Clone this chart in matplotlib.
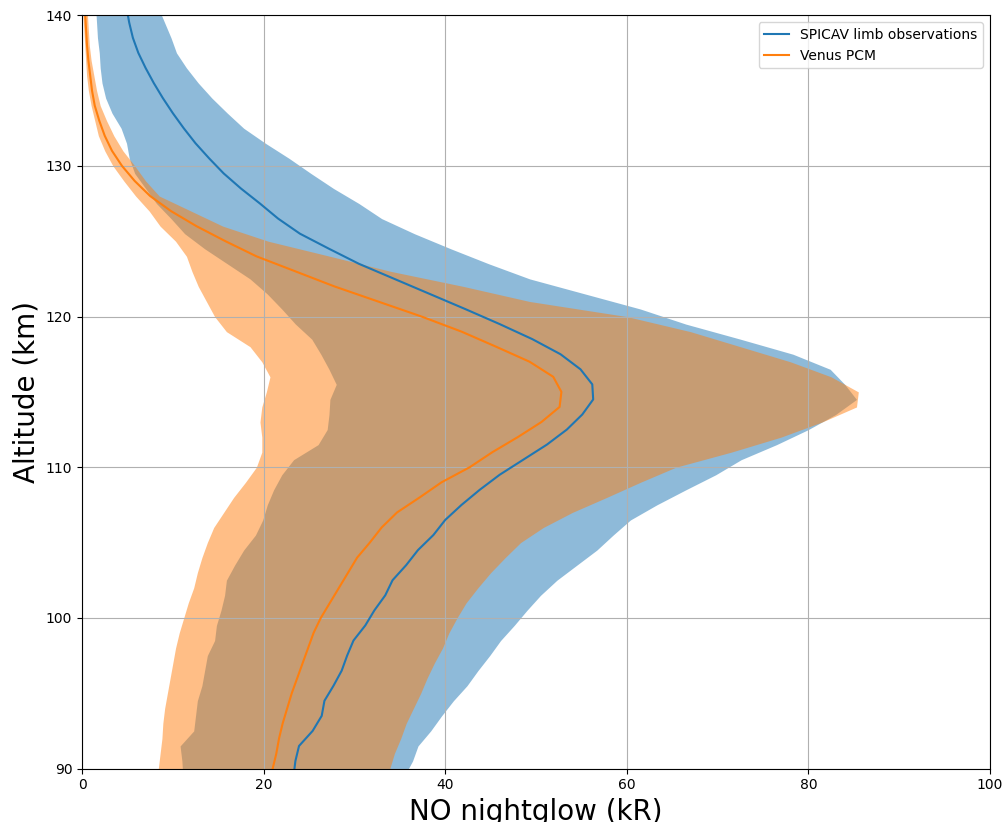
import numpy as np
import matplotlib
matplotlib.use('Agg')
import matplotlib.pyplot as plt

# SPICAV limb observations (kR), sampled at half-km altitudes
spicav_alt = np.arange(89.5, 141, 1)
spicav_mean = [23.3, 23.5, 23.9, 25.4, 26.4, 26.7, 27.7, 28.6, 29.2, 29.9,
               31.2, 32.2, 33.4, 34.2, 35.7, 37.0, 38.7, 40.0, 41.8, 43.8,
               46.0, 48.6, 51.2, 53.4, 55.1, 56.3, 56.2, 54.9, 52.7, 49.6,
               46.0, 42.2, 38.3, 34.4, 30.5, 27.2, 24.0, 21.6, 19.6, 17.5,
               15.6, 14.0, 12.5, 11.2, 10.0, 8.9, 7.9, 7.0, 6.2, 5.6,
               5.2, 4.9]
spicav_low = [11.1, 11.0, 10.8, 12.3, 12.5, 12.7, 13.2, 13.5, 13.8, 14.6,
              14.8, 15.3, 15.7, 15.9, 16.8, 17.8, 19.1, 19.9, 20.4, 21.1,
              22.0, 23.3, 26.0, 27.0, 27.2, 27.3, 28.0, 27.2, 26.3, 25.3,
              23.5, 22.0, 20.4, 18.5, 16.0, 13.5, 11.3, 9.8, 8.2, 7.0,
              5.8, 5.2, 4.9, 4.3, 3.3, 2.6, 2.2, 2.0, 1.9, 1.7,
              1.6, 1.5]
spicav_high = [35.5, 36.4, 37.0, 38.4, 39.6, 40.9, 42.4, 43.6, 44.9, 46.1,
               47.6, 49.0, 50.5, 52.3, 54.5, 56.7, 58.5, 60.4, 63.3, 66.5,
               69.8, 72.6, 76.5, 80.0, 83.0, 85.3, 84.0, 82.4, 78.3, 72.5,
               66.5, 61.5, 55.4, 49.3, 44.8, 40.6, 36.6, 33.0, 30.5, 27.7,
               25.2, 22.8, 20.2, 17.8, 16.0, 14.3, 12.8, 11.5, 10.4, 9.8,
               9.1, 8.4]

# Venus PCM (kR), sampled every km
pcm_alt = np.arange(90, 141, 1)
pcm_mean = [21.0, 21.4, 21.7, 22.1, 22.6, 23.1, 23.7, 24.3, 24.9, 25.5,
            26.3, 27.3, 28.3, 29.3, 30.3, 31.7, 33.0, 34.7, 37.2, 39.6,
            42.7, 45.2, 48.0, 50.6, 52.6, 52.8, 51.9, 49.3, 45.6, 41.8,
            37.4, 32.6, 27.8, 23.5, 19.2, 15.8, 12.6, 9.8, 7.5, 5.8,
            4.4, 3.3, 2.5, 1.9, 1.4, 1.1, 0.9, 0.7, 0.55, 0.45,
            0.35]
pcm_low = [8.4, 8.6, 8.8, 8.9, 9.1, 9.4, 9.7, 10.0, 10.3, 10.7,
           11.2, 11.7, 12.3, 12.7, 13.2, 13.8, 14.5, 15.6, 16.7, 18.0,
           19.2, 19.8, 19.8, 19.6, 19.8, 20.3, 20.7, 19.8, 18.5, 15.9,
           14.6, 13.7, 12.8, 12.1, 11.5, 10.3, 8.6, 7.4, 5.9, 4.6,
           3.4, 2.5, 1.8, 1.4, 1.0, 0.7, 0.5, 0.4, 0.3, 0.2,
           0.1]
pcm_high = [33.9, 34.4, 35.1, 35.7, 36.5, 37.3, 38.0, 38.8, 39.7, 40.4,
            41.3, 42.3, 43.6, 45.0, 46.6, 48.3, 50.8, 54.0, 57.8, 61.5,
            65.4, 71.5, 77.0, 81.5, 85.3, 85.5, 82.5, 78.0, 72.5, 67.0,
            60.0, 49.3, 42.0, 34.0, 27.3, 20.5, 15.5, 12.0, 8.5, 7.0,
            5.8, 4.5, 3.5, 2.7, 2.0, 1.6, 1.3, 1.0, 0.8, 0.7,
            0.6]

fig = plt.figure(figsize=(10.04, 8.22), dpi=100)
ax = fig.add_axes([0.0817, 0.065, 0.9043, 0.9165])

ax.fill_betweenx(spicav_alt, spicav_low, spicav_high, color='tab:blue', alpha=0.5, linewidth=0)
ax.fill_betweenx(pcm_alt, pcm_low, pcm_high, color='tab:orange', alpha=0.5, linewidth=0)
ax.plot(spicav_mean, spicav_alt, color='tab:blue', label='SPICAV limb observations')
ax.plot(pcm_mean, pcm_alt, color='tab:orange', label='Venus PCM')

ax.set_xlim(0, 100)
ax.set_ylim(90, 140)
ax.grid(True)
ax.set_xlabel('NO nightglow (kR)', fontsize=20)
ax.set_ylabel('Altitude (km)', fontsize=20)
ax.legend(loc='upper right', handlelength=1.8)

fig.savefig('out.png', dpi=100)
